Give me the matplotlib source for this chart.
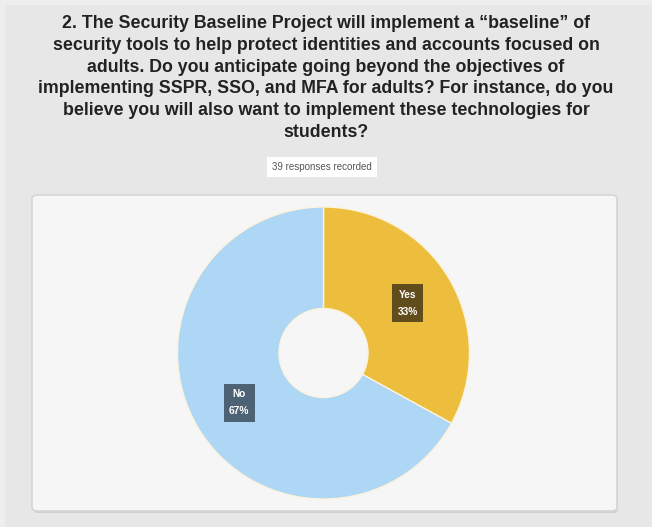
import matplotlib.pyplot as plt
from matplotlib.patches import FancyBboxPatch, Rectangle

# 数据
labels = ["Yes", "No"]
shares = [33, 67]
colors = ["#EDBD3E", "#AED6F5"]
label_box_colors = ["#614C1C", "#4E6275"]
title = ("2. The Security Baseline Project will implement a \u201cbaseline\u201d of\n"
         "security tools to help protect identities and accounts focused on\n"
         "adults. Do you anticipate going beyond the objectives of\n"
         "implementing SSPR, SSO, and MFA for adults? For instance, do you\n"
         "believe you will also want to implement these technologies for\n"
         "students?")
responses = "39 responses recorded"

W, H = 652, 527
fig = plt.figure(figsize=(W / 100, H / 100), dpi=100, facecolor="#e7e7e7")
plt.rcParams['font.family'] = ['Liberation Sans', 'DejaVu Sans']

def px(x, y):
    # 像素坐标 (左上为原点) -> figure 坐标
    return x / W, 1 - y / H

# 左上的浅色边
fig.patches.append(Rectangle((0, 0), 5 / W, 1, transform=fig.transFigure,
                             facecolor="#eeeeee", edgecolor="none", zorder=0))
fig.patches.append(Rectangle((0, 1 - 5 / H), 1, 5 / H, transform=fig.transFigure,
                             facecolor="#eeeeee", edgecolor="none", zorder=0))

# 标题
fig.text(*px(326, 15), title, ha="center", va="top", fontsize=12.75,
         fontweight="bold", color="#222222", linespacing=1.37)

# 回复数量
fig.text(*px(322, 167), responses, ha="center", va="center", fontsize=7,
         color="#555555",
         bbox=dict(facecolor="white", edgecolor="none", boxstyle="square,pad=0.55"))

# 面板 (带阴影)
x0, y0 = px(32, 511)
x1, y1 = px(617, 195)
fig.patches.append(FancyBboxPatch((x0 + 1 / W, y0 - 2 / H), x1 - x0, y1 - y0,
                                  boxstyle="round,pad=0,rounding_size=0.008",
                                  transform=fig.transFigure, facecolor="#cfcfcf",
                                  edgecolor="none", zorder=1))
fig.patches.append(FancyBboxPatch((x0, y0), x1 - x0, y1 - y0,
                                  boxstyle="round,pad=0,rounding_size=0.008",
                                  transform=fig.transFigure, facecolor="#f6f6f6",
                                  edgecolor="#d6d6d6", linewidth=1.2, zorder=2))

# 饼图
cx, cy, r = 323.5, 353, 146
ax = fig.add_axes([(cx - r) / W, (H - cy - r) / H, 2 * r / W, 2 * r / H])
ax.set_zorder(3)
wedges, texts = ax.pie(
    shares, colors=colors, startangle=90, counterclock=False,
    labels=[f"{l}\n{s}%" for l, s in zip(labels, shares)], labeldistance=0.67,
    wedgeprops=dict(width=0.695, edgecolor="#fbf3dc", linewidth=1.0),
)
for t, c in zip(texts, label_box_colors):
    t.set_ha("center")
    t.set_va("center")
    t.set_color("white")
    t.set_fontsize(7.3)
    t.set_fontweight("bold")
    t.set_linespacing(1.9)
    t.set_bbox(dict(facecolor=c, edgecolor="none", boxstyle="square,pad=0.55"))
ax.set_xlim(-1, 1)
ax.set_ylim(-1, 1)
ax.set_aspect("equal")
ax.axis("off")

plt.savefig("out.png", dpi=100, facecolor=fig.get_facecolor())
